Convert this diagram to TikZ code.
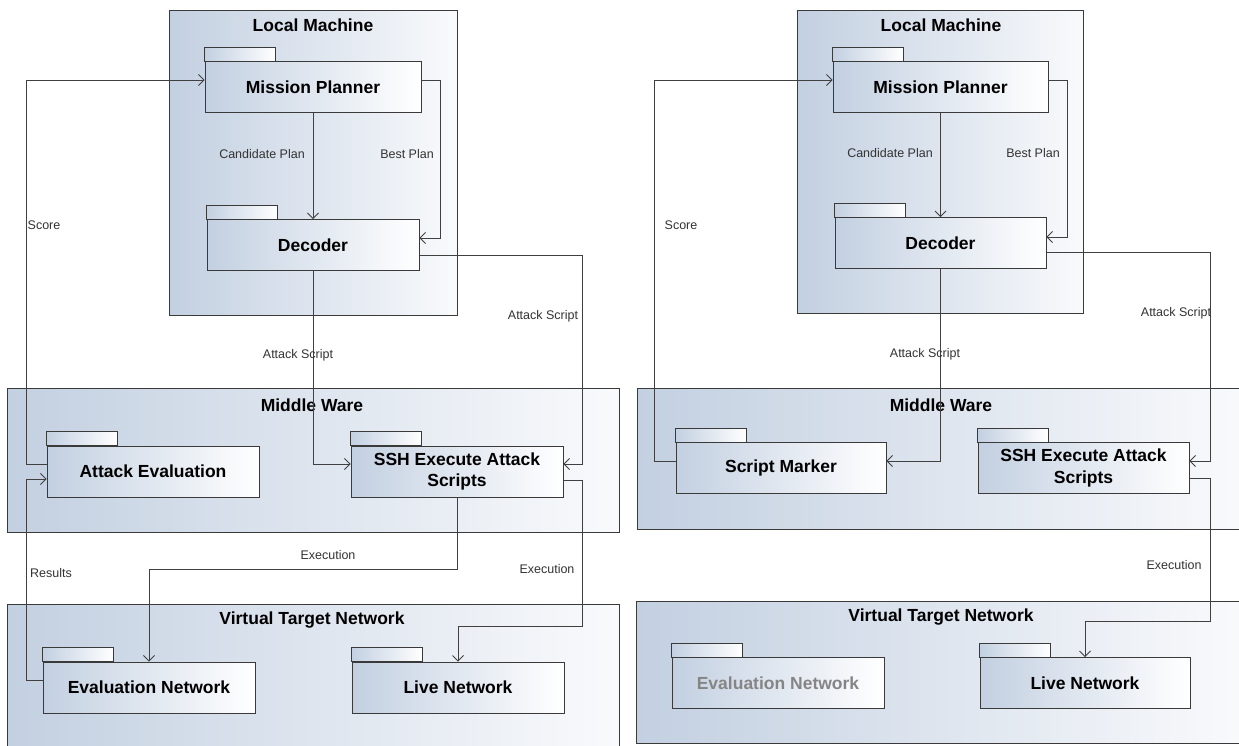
\documentclass[tikz,border=0pt]{standalone}
\usepackage{fontspec}
\setmainfont{Liberation Sans}
\usetikzlibrary{arrows.meta}
\definecolor{cblue}{HTML}{C3D0E1}
\definecolor{cwhite}{HTML}{F9FAFC}
\definecolor{edgec}{HTML}{3A3A3A}
\definecolor{wire}{HTML}{404040}
\definecolor{labc}{HTML}{333333}
\definecolor{greytext}{HTML}{858585}
\begin{document}
\begin{tikzpicture}[x=1pt,y=-1pt,
  cont/.style={draw=edgec, line width=0.9pt, left color=cblue, right color=cwhite, inner sep=0pt, anchor=north west},
  ctitle/.style={font=\fontsize{17.5}{20}\selectfont\bfseries, text=black, inner sep=0pt},
  pkg/.style={draw=edgec, line width=0.9pt, left color=cblue, right color=white, inner sep=0pt, minimum height=51pt,
    font=\fontsize{17.5}{21.5}\selectfont\bfseries, align=center},
  tabbox/.style={draw=edgec, line width=0.9pt, left color=cblue, right color=white},
  conn/.style={draw=wire, line width=0.9pt, -{Straight Barb[length=5.5pt,width=11pt,line width=0.8pt]}},
  lab/.style={font=\fontsize{12.5}{14}\selectfont, text=labc, inner sep=0pt}]
\useasboundingbox (0,0) rectangle (1239,745);
\clip (0,0) rectangle (1239,745);
\fill[white] (0,0) rectangle (1239,745);

% ---------- containers (left) ----------
\node[cont, minimum width=288pt, minimum height=305pt] (lm) at (169,10) {};
\node[cont, minimum width=612pt, minimum height=144pt] (mw) at (7,388) {};
\node[cont, minimum width=612pt, minimum height=145pt] (vtn) at (7,604) {};
\node[ctitle] (lmt) at (313,25) {Local Machine};
\node[ctitle] (mwt) at (312,405) {Middle Ware};
\node[ctitle] (vtnt) at (312,620) {Virtual Target Network};

% ---------- containers (right) ----------
\node[cont, minimum width=286pt, minimum height=303pt] (lm2) at (797,10) {};
\node[cont, minimum width=612pt, minimum height=141pt] (mw2) at (637,388) {};
\node[cont, minimum width=612pt, minimum height=142pt] (vtn2) at (636,601) {};
\node[ctitle] (lmt2) at (941,25) {Local Machine};
\node[ctitle] (mwt2) at (941,405) {Middle Ware};
\node[ctitle] (vtnt2) at (941,617) {Virtual Target Network};

% ---------- packages (left) ----------
\node[pkg, minimum width=216pt] (mp) at (313,87) {Mission Planner};
\node[pkg, minimum width=212pt] (dec) at (313,245) {Decoder};
\node[pkg, minimum width=212pt] (ae) at (153,471.5) {Attack Evaluation};
\node[pkg, minimum width=212pt] (ssh) at (457,471.5) {SSH Execute Attack\\Scripts};
\node[pkg, minimum width=212pt] (en) at (149,687.5) {Evaluation Network};
\node[pkg, minimum width=212pt] (ln) at (458,687.5) {Live Network};

% ---------- packages (right) ----------
\node[pkg, minimum width=215pt] (mp2) at (940.5,87) {Mission Planner};
\node[pkg, minimum width=211pt] (dec2) at (940.5,243) {Decoder};
\node[pkg, minimum width=210pt] (sm) at (781,468) {Script Marker};
\node[pkg, minimum width=211pt] (ssh2) at (1083.5,468) {SSH Execute Attack\\Scripts};
\node[pkg, minimum width=212pt, text=greytext] (en2) at (778,683) {Evaluation Network};
\node[pkg, minimum width=210pt] (ln2) at (1085,683) {Live Network};

% ---------- tabs ----------
\foreach \p in {mp,dec,ae,ssh,en,ln,mp2,dec2,sm,ssh2,en2,ln2}
  \draw[tabbox] (\p.north west) rectangle ++(71,-14);

% ---------- connectors (left) ----------
\draw[conn] ([yshift=7.5pt]ae.west) -| (26,80) -- ([yshift=7pt]mp.west);
\draw[conn] ([yshift=7.5pt]en.west) -| (26,479) -- ([yshift=-7.5pt]ae.west);
\draw[conn] (mp.south) -- (dec.north);
\draw[conn] ([yshift=7pt]mp.east) -| (440,238) -- ([yshift=7pt]dec.east);
\draw[conn] ([yshift=-10pt]dec.east) -| (582,464) -- ([yshift=7.5pt]ssh.east);
\draw[conn] (dec.south) |- ([yshift=7.5pt]ssh.west);
\draw[conn] (ssh.south) |- (149,569) -- (en.north);
\draw[conn] ([yshift=-8.5pt]ssh.east) -| (582,626) -| (ln.north);

% ---------- connectors (right) ----------
\draw[conn] ([yshift=7pt]sm.west) -| (654,80) -- ([yshift=7pt]mp2.west);
\draw[conn] (mp2.south) -- (dec2.north);
\draw[conn] ([yshift=7pt]mp2.east) -| (1067,237) -- ([yshift=6pt]dec2.east);
\draw[conn] ([yshift=-9pt]dec2.east) -| (1210,461) -- ([yshift=7pt]ssh2.east);
\draw[conn] (dec2.south) |- ([yshift=7pt]sm.east);
\draw[conn] ([yshift=-10pt]ssh2.east) -| (1210,621) -| (ln2.north);

% ---------- labels (left) ----------
\node[lab] (l1) at (262,154) {Candidate Plan};
\node[lab] (l2) at (407,154) {Best Plan};
\node[lab] (l3) at (44,225) {Score};
\node[lab] (l4) at (298,355) {Attack Script};
\node[lab] (l5) at (543,316) {Attack Script};
\node[lab] (l6) at (328,555) {Execution};
\node[lab] (l7) at (51,573) {Results};
\node[lab] (l8) at (547,569) {Execution};

% ---------- labels (right) ----------
\node[lab] (r1) at (890,153) {Candidate Plan};
\node[lab] (r2) at (1033,153) {Best Plan};
\node[lab] (r3) at (681,225) {Score};
\node[lab] (r4) at (925,354) {Attack Script};
\node[lab] (r5) at (1176,313) {Attack Script};
\node[lab] (r6) at (1174,565) {Execution};
\end{tikzpicture}
\end{document}
